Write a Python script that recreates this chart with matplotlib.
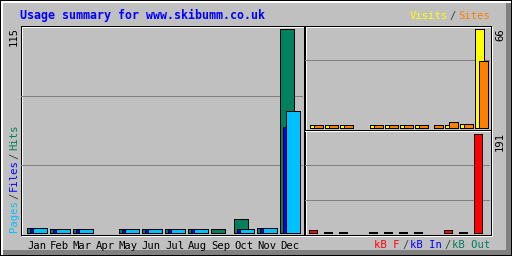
import matplotlib
matplotlib.use("Agg")
import matplotlib.pyplot as plt
from matplotlib.patches import Rectangle

months = ["Jan", "Feb", "Mar", "Apr", "May", "Jun",
          "Jul", "Aug", "Sep", "Oct", "Nov", "Dec"]
hits   = [3, 2, 2, 0, 2, 2, 2, 2, 2, 8, 3, 115]
files  = [3, 2, 2, 0, 2, 2, 2, 2, 0, 2, 3, 60]
pages  = [3, 2, 2, 0, 2, 2, 2, 2, 0, 2, 3, 69]
visits = [2, 2, 2, 0, 2, 2, 2, 2, 0, 2, 3, 66]
sites  = [2, 2, 2, 0, 2, 2, 2, 2, 2, 4, 3, 45]
kbytes = [6, 2, 2, 0, 2, 2, 2, 2, 0, 6, 2, 191]

W, H = 512, 256
BG = "#c0c0c0"
DKGREY = "#808080"
C_HITS, C_FILES, C_PAGES = "#00805c", "#0000ff", "#00c0ff"
C_VISITS, C_SITES, C_KB = "#ffff00", "#ff8000", "#ff0000"
MONO = "DejaVu Sans Mono"
LW = 0.72  # one pixel at 100 dpi

fig = plt.figure(figsize=(W / 100, H / 100), dpi=100, facecolor=BG)

# background / frame layer in pixel coordinates
deco = fig.add_axes([0, 0, 1, 1], zorder=0)
deco.set_xlim(0, W)
deco.set_ylim(H, 0)
deco.axis("off")

def box(x0, y0, x1, y1, color):
    deco.add_patch(Rectangle((x0, y0), x1 - x0, y1 - y0, facecolor=color,
                             edgecolor="none", antialiased=False))

# bevelled outer border
box(0, 0, W, H, "black")
box(1, 1, W - 1, H - 1, "white")
box(3, 3, W - 1, H - 1, DKGREY)
box(3, 3, W - 6, H - 6, BG)

def frame(x0, y0, x1, y1):
    # black rectangle with white one shifted by a pixel (groove look)
    deco.add_patch(Rectangle((x0 + 1.5, y0 + 1.5), x1 - x0, y1 - y0, fill=False,
                             edgecolor="white", lw=LW, antialiased=False))
    deco.add_patch(Rectangle((x0 + 0.5, y0 + 0.5), x1 - x0, y1 - y0, fill=False,
                             edgecolor="black", lw=LW, antialiased=False))

frame(20, 25, 303, 234)
frame(304, 25, 490, 234)
deco.plot([305, 490], [129.5, 129.5], color="black", lw=LW, antialiased=False)
deco.plot([305, 490], [130.5, 130.5], color="white", lw=LW, antialiased=False)

def px_axes(x0, y0, x1, y1):
    a = fig.add_axes([x0 / W, 1 - y1 / H, (x1 - x0) / W, (y1 - y0) / H], zorder=2)
    a.set_facecolor("none")
    for s in a.spines.values():
        s.set_visible(False)
    a.tick_params(length=0)
    a.set_yticks([])
    return a

def bars(a, offset, vals, width, color):
    # webalizer leaves empty months blank
    xs = [i + offset for i, v in enumerate(vals) if v > 0]
    vs = [v for v in vals if v > 0]
    a.bar(xs, vs, width=width, color=color, edgecolor="black", lw=LW,
          antialiased=False, zorder=2)

idx = list(range(12))

# main chart: hits / files / pages
ax = px_axes(21, 26, 303, 235)
step = 23.0
ax.set_xlim(-12.5 / step, -12.5 / step + 282 / step)
scale = 204 / 115
ax.set_ylim(-2 / scale, 115 + 3 / scale)
ax.hlines([1 / 3, 2 / 3], 0, 1, transform=ax.transAxes, color=DKGREY, lw=LW,
          antialiased=False, zorder=0)
bw = 14 / step
bars(ax, 0, hits, bw, C_HITS)
bars(ax, 3 / step, files, bw, C_FILES)
bars(ax, 6 / step, pages, bw, C_PAGES)
ax.set_xticks([i + 3 / step for i in idx])
ax.set_xticklabels(months, family=MONO, fontsize=7.6, color="black")
ax.tick_params(axis="x", pad=4)

# top right: visits / sites
ax2 = px_axes(305, 26, 490, 129)
step2 = 15.0
ax2.set_xlim(-9 / step2, -9 / step2 + 185 / step2)
sc2 = 99 / 66
ax2.set_ylim(-1 / sc2, 66 + 3 / sc2)
ax2.set_xticks([])
ax2.hlines([1 - 34 / 103], 0, 1, transform=ax2.transAxes, color=DKGREY, lw=LW,
           antialiased=False, zorder=0)
bars(ax2, 0, visits, 9 / step2, C_VISITS)
bars(ax2, 4 / step2, sites, 9 / step2, C_SITES)

# bottom right: kbytes
ax3 = px_axes(305, 131, 490, 235)
ax3.set_xlim(-9 / step2, -9 / step2 + 185 / step2)
sc3 = 99 / 191
ax3.set_ylim(-2 / sc3, 191 + 3 / sc3)
ax3.set_xticks([])
ax3.hlines([1 - 34 / 104, 1 - 69 / 104], 0, 1, transform=ax3.transAxes,
           color=DKGREY, lw=LW, antialiased=False, zorder=0)
bars(ax3, -1 / step2, kbytes, 8 / step2, C_KB)

# texts
txt = dict(family=MONO, fontsize=7.6)
deco.text(20, 15.5, "Usage summary for www.skibumm.co.uk", color="#0000ff",
          family=MONO, fontsize=8.4, fontweight="bold", va="center", ha="left")
deco.text(448, 16, "Visits", color=C_VISITS, ha="right", va="center", **txt)
deco.text(453, 16, "/", color="#404040", ha="center", va="center", **txt)
deco.text(490, 16, "Sites", color=C_SITES, ha="right", va="center", **txt)

deco.text(399, 245, "kB F", color=C_KB, ha="right", va="center", **txt)
deco.text(405.5, 245, "/", color="#404040", ha="center", va="center", **txt)
deco.text(442, 245, "kB In", color=C_FILES, ha="right", va="center", **txt)
deco.text(447.5, 245, "/", color="#404040", ha="center", va="center", **txt)
deco.text(490, 245, "kB Out", color=C_HITS, ha="right", va="center", **txt)

deco.text(14, 232, "Pages", color=C_PAGES, rotation=90, ha="center", va="bottom", **txt)
deco.text(14, 196, "/", color="#404040", rotation=90, ha="center", va="center", **txt)
deco.text(14, 191, "Files", color=C_FILES, rotation=90, ha="center", va="bottom", **txt)
deco.text(14, 156, "/", color="#404040", rotation=90, ha="center", va="center", **txt)
deco.text(14, 150, "Hits", color=C_HITS, rotation=90, ha="center", va="bottom", **txt)

deco.text(14, 27, str(max(hits)), color="black", rotation=90, ha="center", va="top", **txt)
deco.text(500, 28, str(max(visits)), color="black", rotation=90, ha="center", va="top", **txt)
deco.text(500, 132, str(max(kbytes)), color="black", rotation=90, ha="center", va="top", **txt)

fig.savefig("out.png", dpi=100, facecolor=BG)
